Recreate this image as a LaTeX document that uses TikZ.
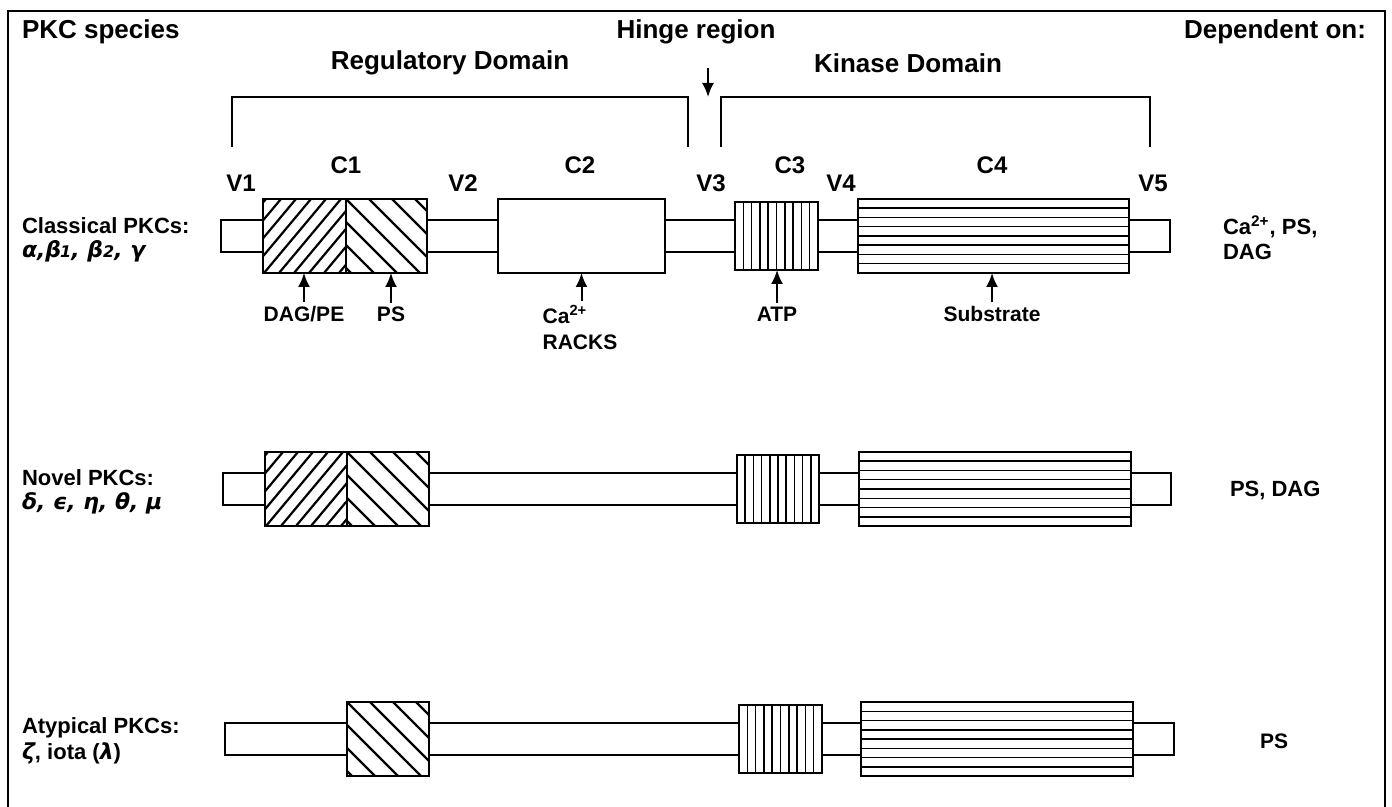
\documentclass[tikz,border=0pt]{standalone}
\usepackage{fontspec}
\setmainfont{Liberation Sans}
\newfontfamily\grk{DejaVu Sans}
\usetikzlibrary{arrows.meta,fit,calc}
\newcommand\pkbox[6]{\node[pk,fit={(#2,#3)(#4,#5)},#6] (#1) {};}
\begin{document}
\begin{tikzpicture}[x=0.5pt,y=-0.5pt,
  every node/.style={inner sep=0pt,outer sep=0pt},
  pk/.style={draw,line width=1.15pt,fill=white,inner sep=0pt},
  hdr/.style={font=\fontsize{13}{15}\selectfont\bfseries},
  seg/.style={font=\fontsize{12}{14}\selectfont\bfseries},
  lab/.style={font=\fontsize{11}{13}\selectfont\bfseries,anchor=west},
  grklab/.style={font=\fontsize{11}{13}\selectfont\grk\bfseries\itshape,anchor=west},
  sm/.style={font=\fontsize{10.5}{12}\selectfont\bfseries},
  frame/.style={line width=1.3pt},
  brk/.style={line width=1.1pt},
  uparr/.style={line width=1pt,-{Latex[length=7pt,width=6pt]},shorten <=2pt},
  hatch/.style={line width=1.1pt},
  fine/.style={line width=0.75pt},
  vstripes/.style={path picture={
    \coordinate (pa) at (path picture bounding box.north west);
    \coordinate (pb) at (path picture bounding box.south east);
    \foreach \i in {1,...,9}{\draw[fine] ($(pa)!\i/10!(pa -| pb)$) -- ($(pa |- pb)!\i/10!(pb)$);}}},
  hstripes/.style={path picture={
    \coordinate (pa) at (path picture bounding box.north west);
    \coordinate (pb) at (path picture bounding box.south east);
    \foreach \i in {1,...,7}{\draw[fine] ($(pa)!\i/8!(pa |- pb)$) -- ($(pa -| pb)!\i/8!(pb)$);}}},
  fwdhatch/.style={path picture={
    \coordinate (pa) at (path picture bounding box.south west);
    \foreach \k in {-6,...,6}{\draw[hatch] ([xshift={\k*7.5pt+0.5pt}]pa) -- ++(36pt,43pt);}}},
  bkhatch/.style={path picture={
    \coordinate (pa) at (path picture bounding box.north west);
    \foreach \k in {-4,...,4}{\draw[hatch] ([xshift={\k*11.5pt}]pa) -- ++(40pt,-40pt);}}}
]
\useasboundingbox[fill=white] (0,0) rectangle (1392,807);
% frame
\draw[frame] (8,807) -- (8,11) -- (1385,11) -- (1385,807);
% headers
\node[hdr,anchor=west] (species) at (22,32) {PKC species};
\node[hdr] (hinge) at (696,32) {Hinge region};
\node[hdr,anchor=east] (dep) at (1366,32) {Dependent on:};
\node[hdr] (regdom) at (450,63) {Regulatory Domain};
\node[hdr] (kindom) at (908,63) {Kinase Domain};
% hinge arrow
\coordinate (htail) at (708,64);
\coordinate (htip) at (708,97);
\draw[uparr] (htail) -- (htip);
% brackets
\draw[brk] (232,147) -- (232,97) -- (688,97) -- (688,147);
\draw[brk] (721,147) -- (721,97) -- (1150,97) -- (1150,147);
% segment labels
\node[seg] (lc1) at (346,165) {C1};
\node[seg] (lc2) at (580,165) {C2};
\node[seg] (lc3) at (790,165) {C3};
\node[seg] (lc4) at (992,165) {C4};
\node[seg] (lv1) at (241,183) {V1};
\node[seg] (lv2) at (463,183) {V2};
\node[seg] (lv3) at (711,183) {V3};
\node[seg] (lv4) at (841,183) {V4};
\node[seg] (lv5) at (1153,183) {V5};
% ---- Row 1: classical
\pkbox{tubeA}{221}{220}{1170}{252}{}
\pkbox{cAia}{263}{199}{346}{273}{fwdhatch}
\pkbox{cAib}{346}{199}{427}{273}{bkhatch}
\pkbox{cAii}{498}{199}{665}{273}{}
\pkbox{cAiii}{735}{202}{818}{270}{vstripes}
\pkbox{cAiv}{858}{199}{1129}{273}{hstripes}
\node[lab] (classical) at (22,226) {Classical PKCs:};
\node[grklab] (classicalg) at (22,251) {α,β\kern-.5pt{\fontsize{8}{9}\selectfont 1}, β{\fontsize{8}{9}\selectfont 2}, γ};
\node[lab] (depA) at (1223,227) {Ca\textsuperscript{2+}, PS,};
\node[lab] (depAb) at (1223,252) {DAG};
% binding labels
\node[sm] (dagpe) at (304,314) {DAG/PE};
\node[sm] (ps) at (391,314) {PS};
\node[sm] (racks) at (580,342) {RACKS};
\node[sm,anchor=west] (ca) at ([yshift=14pt]racks.west) {Ca\textsuperscript{2+}};
\node[sm] (atp) at (777,314) {ATP};
\node[sm] (subs) at (992,314) {Substrate};
\draw[uparr] (dagpe.north) -- (dagpe.north |- cAia.south);
\draw[uparr] (ps.north) -- (ps.north |- cAib.south);
\draw[uparr] (ca.north -| cAii.south) -- (cAii.south);
\draw[uparr] (atp.north) -- (atp.north |- cAiii.south);
\draw[uparr] (subs.north) -- (subs.north |- cAiv.south);
% ---- Row 2: novel
\pkbox{tubeB}{223}{473}{1171}{505}{}
\pkbox{cBia}{265}{452}{347}{526}{fwdhatch}
\pkbox{cBib}{347}{452}{429}{526}{bkhatch}
\pkbox{cBiii}{737}{455}{819}{523}{vstripes}
\pkbox{cBiv}{859}{452}{1131}{526}{hstripes}
\node[lab] (novel) at (22,478) {Novel PKCs:};
\node[grklab] (novelg) at (22,503) {δ, ϵ, η, θ, μ};
\node[lab] (depB) at (1230,491) {PS, DAG};
% ---- Row 3: atypical
\pkbox{tubeC}{225}{723}{1174}{755}{}
\pkbox{cCib}{347}{702}{429}{776}{bkhatch}
\pkbox{cCiii}{739}{705}{822}{773}{vstripes}
\pkbox{cCiv}{861}{702}{1133}{776}{hstripes}
\node[lab] (atyp) at (22,728) {Atypical PKCs:};
\node[lab] (atypg) at (22,753) {{\grk\itshape ζ}, iota ({\grk\itshape λ})};
\node[sm] (depC) at (1274,741) {PS};
\end{tikzpicture}
\end{document}
